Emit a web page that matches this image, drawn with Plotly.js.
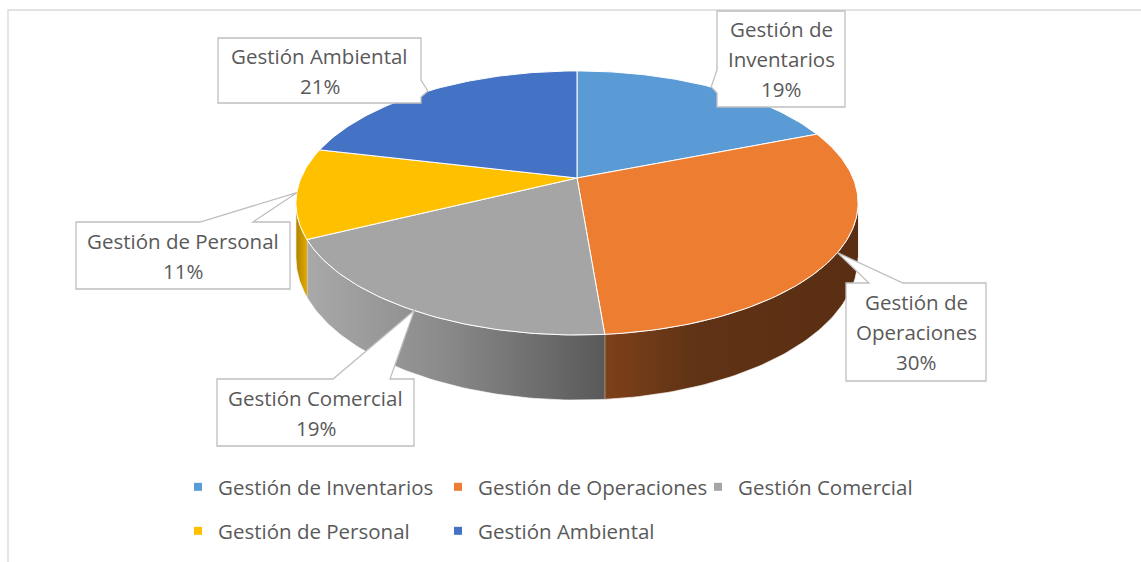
<!DOCTYPE html>
<html>
<head>
<meta charset="utf-8">
<script src="https://cdn.plot.ly/plotly-3.0.1.min.js"></script>
<style>html,body{margin:0;padding:0;background:#fff;}#chart{width:1141px;height:562px;}</style>
</head>
<body>
<div id="chart"></div>
<script>
// ---- data ----
const categories = ['Gestión de Inventarios', 'Gestión de Operaciones', 'Gestión Comercial', 'Gestión de Personal', 'Gestión Ambiental'];
const values = [19, 29.7, 19, 11, 21.3];
const labelLines = [['Gestión de', 'Inventarios'], ['Gestión de', 'Operaciones'], ['Gestión Comercial'], ['Gestión de Personal'], ['Gestión Ambiental']];
const legendGroups = ['legend', 'legend', 'legend', 'legend2', 'legend2'];

// ---- styles ----
const sliceColors = ['#5B9BD5', '#ED7D31', '#A5A5A5', '#FFC000', '#4472C4'];
const wallScales = [
  [[0, '#3F6F9C'], [1, '#2F5577']],
  [[0, '#7E4119'], [0.35, '#603316'], [1, '#5A2E12']],
  [[0, '#A9A9A9'], [0.45, '#8B8B8B'], [1, '#595959']],
  [[0, '#B08300'], [1, '#E0A900']],
  [[0, '#304F8A'], [1, '#27406F']]
];
// callout boxes: x0,y0,x1,y1, side of the pointer, pointer base from/to
const boxes = [
  [717, 11, 845, 107, 'left', 70, 93],
  [846, 283, 986, 381, 'top', 869, 903],
  [217, 379, 414, 446, 'top', 333, 390],
  [76, 222, 290, 289, 'top', 200, 253],
  [218, 38, 421, 103, 'right', 80, 97]
];
const FONT = '"Open Sans", Lato, sans-serif';
const TXT = '#595959';
const FS = 20.5;

// ---- projection of a tilted disk (perspective) ----
const CX = 577, CY = 178, K = 127.3, M = 276, P = 0.189, H = 52.8;
function rim(deg, z) {
  const t = deg * Math.PI / 180, s = Math.sin(t), c = Math.cos(t), d = 1 + P * c;
  return [CX + M * s / d, CY + (-K * c + z * H) / d];
}
function arc(a, b, z) {
  const n = Math.max(2, Math.ceil(Math.abs(b - a)));
  const out = [];
  for (let i = 0; i <= n; i++) out.push(rim(a + (b - a) * i / n, z));
  return out;
}
const total = values.reduce((s, v) => s + v, 0);
const visA = Math.acos(-P) * 180 / Math.PI, visB = 360 - visA;

const walls = [], tops = [], legendTraces = [], shapes = [], annotations = [];
let cum = 0;
values.forEach((v, i) => {
  const a = cum / total * 360, b = (cum + v) / total * 360;
  cum += v;
  // front wall
  const wa = Math.max(a, visA), wb = Math.min(b, visB);
  if (wb > wa) {
    const pts = arc(wa, wb, 0).concat(arc(wb, wa, 1));
    walls.push({
      type: 'scatter', mode: 'lines', x: pts.map(p => p[0]), y: pts.map(p => p[1]),
      fill: 'toself', fillgradient: {type: 'horizontal', colorscale: wallScales[i]},
      line: {color: 'rgba(255,255,255,0.85)', width: 0.8}, showlegend: false, hoverinfo: 'skip'
    });
  }
  // top face
  const tp = [[CX, CY]].concat(arc(a, b, 0)).concat([[CX, CY]]);
  tops.push({
    type: 'scatter', mode: 'lines', x: tp.map(p => p[0]), y: tp.map(p => p[1]),
    fill: 'toself', fillcolor: sliceColors[i], line: {color: '#FFFFFF', width: 1},
    showlegend: false, name: categories[i], hoverinfo: 'name'
  });
  // legend entry
  legendTraces.push({
    type: 'scatter', mode: 'markers', x: [null], y: [null], name: categories[i],
    marker: {symbol: 'square', size: 8, color: sliceColors[i]}, legend: legendGroups[i], showlegend: true
  });
  // callout
  const tip = rim((a + b) / 2, 0);
  const [x0, y0, x1, y1, side, u, w] = boxes[i];
  const pts = [[x0, y0]];
  if (side === 'top') pts.push([u, y0], tip, [w, y0]);
  pts.push([x1, y0]);
  if (side === 'right') pts.push([x1, u], tip, [x1, w]);
  pts.push([x1, y1], [x0, y1]);
  if (side === 'left') pts.push([x0, w], tip, [x0, u]);
  shapes.push({
    type: 'path', xref: 'x', yref: 'y', layer: 'above',
    path: 'M' + pts.map(p => p[0].toFixed(1) + ',' + p[1].toFixed(1)).join('L') + 'Z',
    fillcolor: '#FFFFFF', line: {color: '#BFBFBF', width: 1.3}
  });
  const lines = labelLines[i].concat([Math.round(v / total * 100) + '%']);
  const cy = (y0 + y1) / 2, cx = (x0 + x1) / 2;
  lines.forEach((t, j) => {
    annotations.push({
      x: cx, y: cy + (j - (lines.length - 1) / 2) * 30, xref: 'x', yref: 'y',
      text: t, showarrow: false, font: {family: FONT, size: FS, color: TXT},
      xanchor: 'center', yanchor: 'middle'
    });
  });
});

// chart frame
shapes.unshift({type: 'rect', xref: 'x', yref: 'y', x0: 8, y0: 10, x1: 1300, y1: 700,
  line: {color: '#D9D9D9', width: 1.3}, fillcolor: 'rgba(0,0,0,0)', layer: 'below'});

const legendCommon = {
  orientation: 'h', xanchor: 'left', yanchor: 'middle', entrywidth: 215, entrywidthmode: 'pixels',
  font: {family: FONT, size: FS, color: TXT}, bgcolor: 'rgba(0,0,0,0)', borderwidth: 0,
  itemclick: false, itemdoubleclick: false
};

const layout = {
  width: 1141, height: 562, margin: {l: 0, r: 0, t: 0, b: 0},
  paper_bgcolor: '#FFFFFF', plot_bgcolor: '#FFFFFF',
  xaxis: {range: [0, 1141], visible: false, fixedrange: true},
  yaxis: {range: [562, 0], visible: false, fixedrange: true},
  showlegend: true,
  legend: Object.assign({x: 178 / 1141, y: 1 - 487 / 562}, legendCommon),
  legend2: Object.assign({x: 178 / 1141, y: 1 - 531 / 562}, legendCommon),
  shapes: shapes, annotations: annotations
};

Plotly.newPlot('chart', walls.concat(tops).concat(legendTraces), layout, {staticPlot: true, displayModeBar: false});
</script>
</body>
</html>
